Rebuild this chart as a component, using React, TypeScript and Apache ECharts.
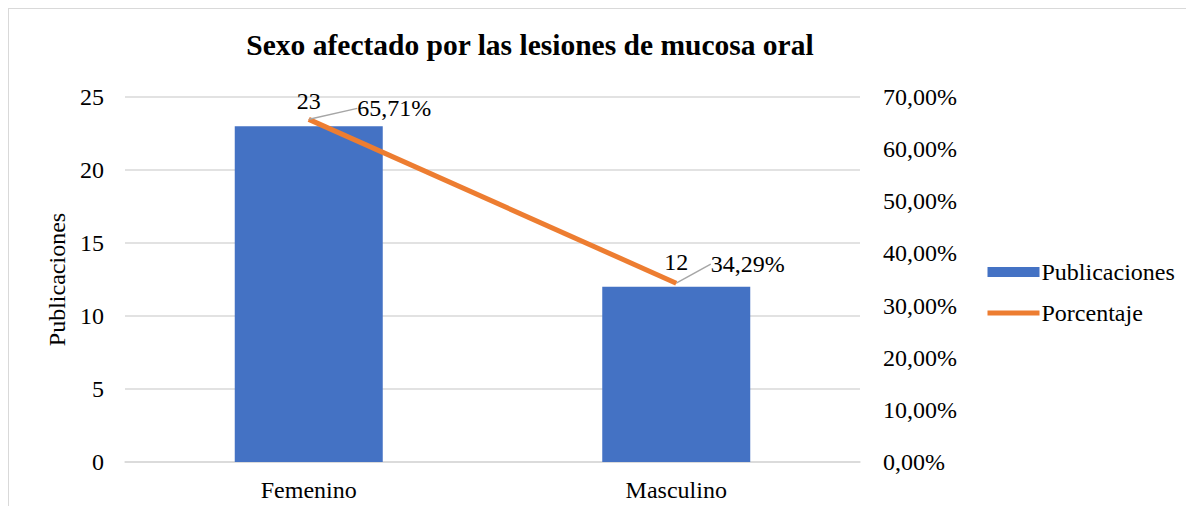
import React, { useEffect, useRef } from "react";
import * as echarts from "echarts";

const categories = ["Femenino", "Masculino"];
const publicaciones = [23, 12];
const porcentaje = [0.6571, 0.3429];
const leftTicks = { min: 0, max: 25, interval: 5 };
const rightTicks = { min: 0, max: 0.7, interval: 0.1 };

const FONT = "Liberation Serif";
const pct = (v: number) => (v * 100).toFixed(2).replace(".", ",") + "%";

export default function App() {
  const ref = useRef<HTMLDivElement>(null);
  useEffect(() => {
    if (!ref.current) return;
    const chart = echarts.init(ref.current, null, { renderer: "svg" });
    const labelShift = [
      { dx: 43, dy: -11 },
      { dx: 29, dy: -19 },
    ];
    const txt = { fontSize: 24, fontFamily: FONT, color: "#000" };
    chart.setOption({
      animation: false,
      graphic: [
        {
          type: "text",
          x: 521,
          y: 36,
          style: {
            text: "Sexo afectado por las lesiones de mucosa oral",
            fontFamily: FONT,
            fontWeight: "bold",
            fontSize: 29.5,
            fill: "#000",
            textAlign: "center",
            textVerticalAlign: "middle",
          },
        },
      ],
      legend: {
        orient: "vertical",
        left: 976,
        top: 251,
        padding: 0,
        itemWidth: 52,
        itemHeight: 10,
        itemGap: 17,
        textStyle: { ...txt, padding: [0, 0, 0, -3] },
        data: [
          { name: "Publicaciones", icon: "rect" },
          { name: "Porcentaje", itemStyle: { opacity: 0 }, lineStyle: { width: 5, color: "#ED7D31" } },
        ],
      },
      grid: { left: 116, top: 88, width: 735, height: 365 },
      xAxis: {
        type: "category",
        data: categories,
        axisTick: { show: false },
        axisLine: { lineStyle: { color: "#d9d9d9", width: 1.5 } },
        axisLabel: { ...txt, margin: 16 },
      },
      yAxis: [
        {
          type: "value",
          ...leftTicks,
          name: "Publicaciones",
          nameLocation: "middle",
          nameGap: 48,
          nameTextStyle: txt,
          axisLine: { show: false },
          axisTick: { show: false },
          axisLabel: { ...txt, margin: 21 },
          splitLine: { lineStyle: { color: "#d9d9d9", width: 1.5 } },
        },
        {
          type: "value",
          ...rightTicks,
          axisLine: { show: false },
          axisTick: { show: false },
          splitLine: { show: false },
          axisLabel: { ...txt, margin: 23, formatter: (v: number) => pct(v) },
        },
      ],
      series: [
        {
          name: "Publicaciones",
          type: "bar",
          data: publicaciones,
          barWidth: 148,
          itemStyle: { color: "#4472C4" },
          label: { show: true, position: "top", distance: 13, ...txt },
        },
        {
          name: "Porcentaje",
          type: "line",
          yAxisIndex: 1,
          data: porcentaje,
          symbol: "none",
          lineStyle: { color: "#ED7D31", width: 5 },
          itemStyle: { color: "#ED7D31" },
          z: 3,
        },
        {
          name: "PorcentajeEtiquetas",
          type: "scatter",
          yAxisIndex: 1,
          data: porcentaje,
          symbolSize: 1,
          itemStyle: { color: "#ED7D31" },
          silent: true,
          label: {
            show: true,
            position: "right",
            distance: 5,
            ...txt,
            textBorderWidth: 0,
            opacity: 1,
            formatter: (p: any) => pct(p.value),
          },
          labelLine: { show: true, lineStyle: { color: "#a6a6a6", width: 1.5 } },
          labelLayout: (p: any) => labelShift[p.dataIndex],
          z: 4,
        },
      ],
    });
    return () => chart.dispose();
  }, []);
  return (
    <div style={{ position: "relative" }}>
      <div style={{ borderTop: "1px solid #d9d9d9", borderLeft: "1px solid #d9d9d9" }}>
        <div ref={ref} style={{ width: "100%", height: 497 }} />
      </div>
    </div>
  );
}
